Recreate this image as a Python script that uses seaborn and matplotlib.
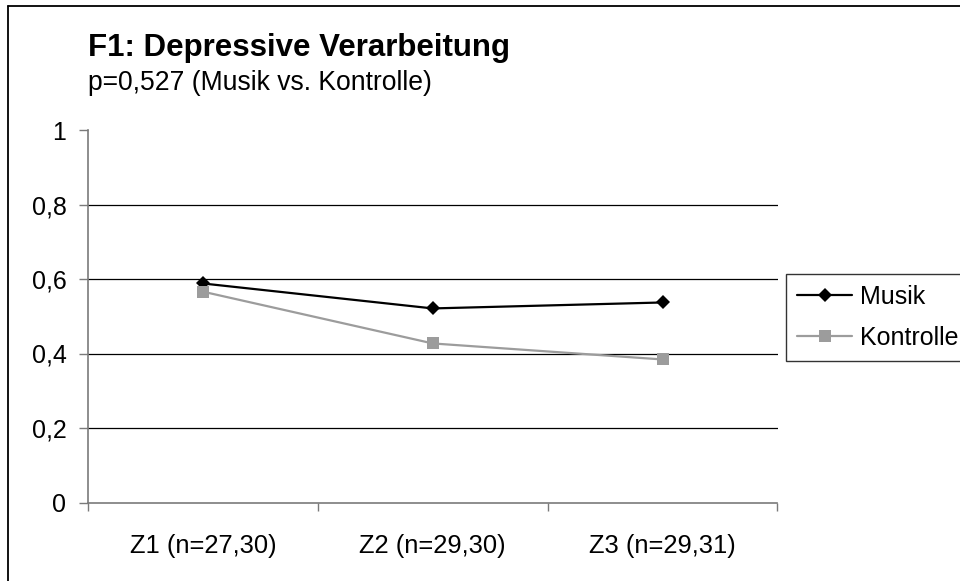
import matplotlib
matplotlib.use("Agg")
import matplotlib.pyplot as plt
from matplotlib.lines import Line2D
from matplotlib.ticker import FixedLocator, FuncFormatter
import numpy as np
import pandas as pd
import seaborn as sns

# Zeitpunkte und Mittelwerte je Gruppe
zeitpunkte = ["Z1 (n=27,30)", "Z2 (n=29,30)", "Z3 (n=29,31)"]
musik = [0.588, 0.521, 0.537]
kontrolle = [0.566, 0.427, 0.384]
y_ticks = [0, 0.2, 0.4, 0.6, 0.8, 1]

sns.set_theme(style="white")
plt.rcParams["font.family"] = ["Liberation Sans", "DejaVu Sans"]
plt.rcParams["text.color"] = "black"
plt.rcParams["xtick.labelcolor"] = "black"
plt.rcParams["ytick.labelcolor"] = "black"

W, H = 960, 581
fig = plt.figure(figsize=(W / 100, H / 100), dpi=100)
ax = fig.add_axes([88 / W, 1 - 502.5 / H, (777.5 - 88) / W, 372.5 / H])

pos = np.arange(len(zeitpunkte))
df_m = pd.DataFrame({"x": pos, "wert": musik})
df_k = pd.DataFrame({"x": pos, "wert": kontrolle})

sns.lineplot(data=df_m, x="x", y="wert", ax=ax, color="black", linewidth=1.6,
             marker="D", markersize=7.2, markeredgewidth=0, label="Musik", legend=False)
sns.lineplot(data=df_k, x="x", y="wert", ax=ax, color="#9c9c9c", linewidth=1.6,
             marker="s", markersize=8.2, markeredgewidth=0, label="Kontrolle", legend=False)

ax.set_xlim(-0.5, len(zeitpunkte) - 0.5)
ax.set_ylim(0, 1)
ax.set_xlabel("")
ax.set_ylabel("")

# horizontale Hilfslinien
for v in y_ticks[1:-1]:
    ax.axhline(v, color="black", linewidth=0.9, zorder=0.5)

for s in ["top", "right"]:
    ax.spines[s].set_visible(False)
for s in ["left", "bottom"]:
    ax.spines[s].set_color("#7a7a7a")
    ax.spines[s].set_linewidth(1.2)

ax.yaxis.set_major_locator(FixedLocator(y_ticks))
ax.yaxis.set_major_formatter(FuncFormatter(lambda v, p: ("%g" % v).replace(".", ",")))
ax.tick_params(axis="y", which="major", direction="out", length=6.5, width=1,
               color="#7a7a7a", pad=9, labelsize=18, labelcolor="black", left=True)

ax.set_xticks(pos)
ax.set_xticklabels(zeitpunkte)
ax.set_xticks(np.arange(-0.5, len(zeitpunkte)), minor=True)
ax.tick_params(axis="x", which="major", length=0, pad=23, labelsize=18.4,
               labelcolor="black", bottom=True)
ax.tick_params(axis="x", which="minor", direction="out", length=6, width=1,
               color="#7a7a7a", bottom=True)

# Titel und Untertitel
fig.text(88 / W, 1 - 56 / H, "F1: Depressive Verarbeitung", fontsize=22.5,
         fontweight="bold", ha="left", va="baseline", color="black")
fig.text(88 / W, 1 - 90 / H, "p=0,527 (Musik vs. Kontrolle)", fontsize=19.1,
         ha="left", va="baseline", color="black")

# Legende
handles = [
    Line2D([], [], color="black", linewidth=1.6, marker="D", markersize=7.2, markeredgewidth=0),
    Line2D([], [], color="#9c9c9c", linewidth=1.6, marker="s", markersize=8.2, markeredgewidth=0),
]
leg = fig.legend(handles, ["Musik", "Kontrolle"], loc="upper left",
                 bbox_to_anchor=(786 / W, 1 - 274 / H), fontsize=18, frameon=True,
                 fancybox=False, edgecolor="black", handlelength=2.2, handletextpad=0.3,
                 borderpad=0.45, labelspacing=0.68, borderaxespad=0)
leg.get_frame().set_linewidth(1.0)
for t in leg.get_texts():
    t.set_color("black")

# Rahmen des Diagrammbereichs
fig.add_artist(Line2D([7.5 / W, 7.5 / W], [0, 1 - 6 / H], color="black", linewidth=1.3,
                      transform=fig.transFigure))
fig.add_artist(Line2D([7.5 / W, 1], [1 - 6 / H, 1 - 6 / H], color="black", linewidth=1.3,
                      transform=fig.transFigure))

fig.savefig("out.png", dpi=100)
